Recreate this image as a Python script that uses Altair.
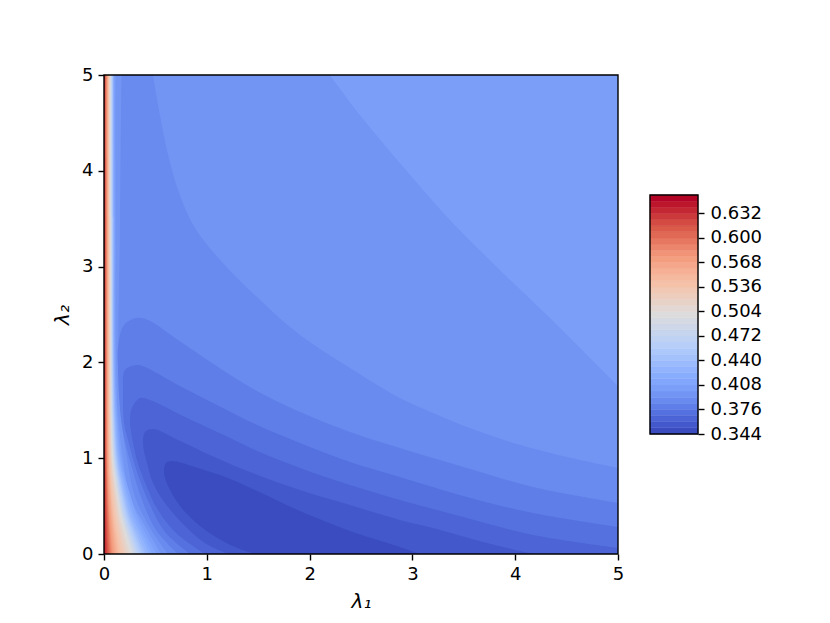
import altair as alt
import pandas as pd

# colormap stops and contour levels
STOP_POS = [0.348, 0.367, 0.386, 0.404, 0.424, 0.462, 0.5, 0.538, 0.576, 0.614, 0.652]
STOP_COL = ["#3b4cc0", "#4f69d9", "#6788ee", "#7b9ff9", "#8db0fe", "#b9d0f9", "#dddcdc", "#f5c4ac", "#f49a7b", "#d95847", "#b40426"]
LEVEL_START = 0.344
LEVEL_STEP = 0.008
N_BANDS = 39
CBAR_TICKS = [0.344, 0.376, 0.408, 0.44, 0.472, 0.504, 0.536, 0.568, 0.6, 0.632]
AXIS_TICKS = [0, 1, 2, 3, 4, 5]

# region below each low contour, (lambda1, lambda2), band index
BASE = [(0, 0), (5, 0), (5, 5), (0, 5)]
C7 = [(.554,0),(.420,.251),(.253,.595),(.185,.981),(.140,1.399),(.117,2.004),(.112,3.497),(.112,5),
      (2.198,5),(2.490,4.582),(2.879,4.081),(3.366,3.486),(3.852,2.965),(4.339,2.463),(5,1.754),(5,0)]
C6 = [(.623,0),(.460,.251),(.302,.595),(.225,.981),(.172,1.399),(.141,2.004),(.156,3.497),(.170,5),
      (.477,5),(.535,4.635),(.613,4.217),(.720,3.800),(.885,3.403),(1.148,3.048),(1.518,2.651),(1.907,2.286),
      (2.393,1.942),(2.879,1.628),(3.200,1.472),(3.531,1.326),(4.017,1.148),(4.504,1.013),(5,.898),(5,0)]
C5 = [(.720,0),(.506,.251),(.370,.564),(.265,.929),(.180,1.294),(.146,1.660),(.136,1.952),(.136,2.161),
      (.195,2.390),(.321,2.463),(.428,2.443),(.720,2.234),(1.080,1.973),(1.469,1.712),(1.907,1.482),(2.393,1.273),
      (2.879,1.106),(3.531,.898),(4.173,.699),(5,.532),(5,0)]
C4 = [(.837,0),(.593,.230),(.448,.511),(.331,.825),(.233,1.190),(.195,1.367),(.185,1.681),(.204,1.921),
      (.321,1.973),(.399,1.952),(.720,1.764),(1.080,1.566),(1.469,1.357),(1.907,1.159),(2.393,.960),(2.879,.804),
      (3.531,.595),(4.173,.428),(5,.282),(5,0)]
C3 = [(.982,0),(.691,.230),(.525,.459),(.409,.720),(.321,.981),(.272,1.221),(.253,1.399),(.272,1.524),
      (.350,1.628),(.447,1.608),(.788,1.430),(1.206,1.221),(1.469,1.086),(1.907,.898),(2.393,.720),(2.879,.564),
      (3.531,.376),(4.173,.198),(5,.063),(5,0)]
C2 = [(1.206,0),(.982,.115),(.759,.324),(.593,.532),(.477,.741),(.418,.950),(.379,1.159),(.399,1.273),
      (.477,1.305),(.720,1.190),(1.051,1.023),(1.469,.835),(1.907,.668),(2.393,.511),(2.879,.355),(3.200,.271),
      (3.687,.125),(4.173,0)]
C1 = [(1.469,0),(1.274,.073),(1.012,.230),(.788,.438),(.642,.668),(.584,.846),(.603,.950),(.661,.971),
      (.885,.908),(1.206,.793),(1.469,.668),(1.907,.449),(2.393,.240),(2.879,.073),(3.074,0)]

# hot wall: lambda1 position of contours k=8..38 at each lambda2 row
WALL_L2 = [0, .15, .4, .6, .8, 1.0, 1.4, 2, 3.5, 5]
WALL = [
 [.515,.475,.445,.415,.395,.375,.355,.335,.320,.305,.290,.275,.255,.235,.215,.195,.170,.148,.130,.115,.100,.086,.075,.065,.055,.045,.035,.025,.015,.010,.005],
 [.435,.405,.380,.355,.335,.318,.300,.285,.272,.260,.247,.235,.217,.200,.180,.163,.142,.124,.110,.097,.084,.072,.063,.054,.046,.037,.029,.020,.013,.008,.004],
 [.320,.295,.276,.257,.244,.232,.219,.207,.197,.188,.179,.170,.157,.144,.132,.119,.104,.091,.081,.072,.063,.054,.047,.041,.035,.028,.022,.015,.010,.006,.003],
 [.260,.238,.222,.207,.196,.186,.176,.166,.158,.151,.143,.136,.126,.116,.106,.096,.083,.073,.065,.058,.050,.043,.038,.033,.028,.023,.018,.012,.008,.005,.003],
 [.205,.190,.178,.166,.157,.149,.141,.134,.128,.122,.114,.107,.099,.091,.084,.076,.067,.059,.053,.047,.041,.036,.032,.028,.024,.020,.015,.011,.007,.004,.002],
 [.165,.155,.145,.135,.128,.121,.114,.108,.103,.098,.093,.088,.081,.075,.070,.064,.058,.052,.047,.042,.037,.033,.029,.025,.021,.017,.013,.009,.006,.004,.002],
 [.130,.122,.115,.109,.103,.098,.093,.089,.085,.081,.077,.073,.069,.065,.060,.056,.051,.046,.042,.038,.034,.030,.027,.023,.019,.016,.012,.009,.006,.003,.002],
 [.107,.103,.098,.094,.090,.087,.083,.080,.077,.074,.071,.068,.064,.060,.056,.052,.048,.044,.040,.036,.032,.029,.026,.022,.019,.015,.012,.008,.005,.003,.002],
 [.104,.100,.095,.091,.087,.084,.080,.077,.074,.071,.068,.064,.061,.058,.054,.051,.047,.043,.039,.036,.032,.028,.025,.022,.018,.015,.011,.008,.005,.003,.001],
 [.100,.096,.092,.088,.085,.082,.079,.076,.072,.068,.065,.061,.058,.055,.051,.049,.046,.042,.039,.035,.032,.028,.025,.021,.017,.013,.011,.008,.005,.003,.001],
]

def mid(k):
    return LEVEL_START + LEVEL_STEP * (k + 0.5)

rows = []
def add(poly, band, pts):
    # a point on the plot's edge is repeated so the spline keeps a sharp corner there
    seq = []
    for a, b in pts:
        seq.append((a, b))
        if b in (0, 5) or a in (0, 5):
            seq.append((a, b))
    for i, (a, b) in enumerate(seq):
        rows.append({"poly": poly, "i": i, "l1": a, "l2": b, "v": mid(band)})

add(0, 7, BASE)
for p, (band, pts) in enumerate([(6, C7), (5, C6), (4, C5), (3, C4), (2, C3), (1, C2), (0, C1)], start=1):
    add(p, band, pts)
for j in range(31):
    k = 8 + j
    pts = [(0, 0)] + [(WALL[r][j], WALL_L2[r]) for r in range(len(WALL_L2))] + [(0, 5)]
    add(8 + j, k, pts)
df = pd.DataFrame(rows)

color_scale = alt.Scale(domain=STOP_POS, range=STOP_COL, interpolate="rgb", clamp=True)
font = "DejaVu Sans"
FS = 18

x_axis = alt.Axis(values=AXIS_TICKS, format="d", grid=False, domain=False, tickSize=6, tickWidth=1.4,
                  tickColor="black", labelFont=font, labelFontSize=FS, labelColor="black", labelPadding=5,
                  labelFlush=False, labelOverlap=False,
                  title="λ₁", titleFont=font, titleFontSize=20, titleFontStyle="italic",
                  titleFontWeight="normal", titleColor="black", titlePadding=8)
y_axis = alt.Axis(values=AXIS_TICKS, format="d", grid=False, domain=False, tickSize=6, tickWidth=1.4,
                  tickColor="black", labelFont=font, labelFontSize=FS, labelColor="black", labelPadding=5,
                  labelFlush=False, labelOverlap=False,
                  title="λ₂", titleFont=font, titleFontSize=20, titleFontStyle="italic",
                  titleFontWeight="normal", titleColor="black", titlePadding=9)

x = alt.X("l1:Q", scale=alt.Scale(domain=[0, 5], nice=False, zero=False), axis=x_axis)
y = alt.Y("l2:Q", scale=alt.Scale(domain=[0, 5], nice=False, zero=False), axis=y_axis)

fills = alt.Chart(df).mark_line(filled=True, strokeWidth=0, interpolate="catmull-rom", clip=True).encode(
    x=x, y=y, order="i:Q", detail="poly:N",
    color=alt.Color("v:Q", scale=color_scale, legend=None),
)
frame = alt.Chart(pd.DataFrame({"a": [0], "b": [5]})).mark_rect(filled=False, stroke="black", strokeWidth=1.4).encode(
    x=alt.X("a:Q", scale=alt.Scale(domain=[0, 5], nice=False, zero=False), axis=x_axis),
    x2="b:Q",
    y=alt.Y("a:Q", scale=alt.Scale(domain=[0, 5], nice=False, zero=False), axis=y_axis),
    y2=alt.Y2("b:Q"),
)
main = alt.layer(fills, frame).properties(width=514, height=479)

cb = pd.DataFrame({"lo": [LEVEL_START + LEVEL_STEP * k for k in range(N_BANDS)],
                   "hi": [LEVEL_START + LEVEL_STEP * (k + 1) for k in range(N_BANDS)],
                   "v": [mid(k) for k in range(N_BANDS)]})
cb_y = alt.Scale(domain=[LEVEL_START, LEVEL_START + LEVEL_STEP * N_BANDS], range=[359, 120], nice=False, zero=False)
cb_axis = alt.Axis(values=CBAR_TICKS, format=".3f", orient="right", grid=False, domain=False, tickSize=6, tickWidth=1.4,
                   tickColor="black", labelFont=font, labelFontSize=FS, labelColor="black", labelPadding=6,
                   labelOverlap=False, labelFlush=False, title=None)
bands = alt.Chart(cb).mark_rect(strokeWidth=0.5).encode(
    y=alt.Y("lo:Q", scale=cb_y, axis=cb_axis), y2="hi:Q",
    color=alt.Color("v:Q", scale=color_scale, legend=None),
    stroke=alt.Stroke("v:Q", scale=color_scale, legend=None),
)
outline = alt.Chart(pd.DataFrame({"lo": [LEVEL_START], "hi": [LEVEL_START + LEVEL_STEP * N_BANDS]})).mark_rect(
    filled=False, stroke="black", strokeWidth=1.4).encode(
    y=alt.Y("lo:Q", scale=cb_y, axis=cb_axis), y2="hi:Q")
bar = alt.layer(bands, outline).properties(width=48, height=479)

chart = alt.hconcat(main, bar, spacing=23, padding={"left": 44, "top": 57, "right": 10, "bottom": 10}).configure_view(stroke="transparent")
chart.save("out.html", embed_options={"renderer": "svg", "actions": False})
